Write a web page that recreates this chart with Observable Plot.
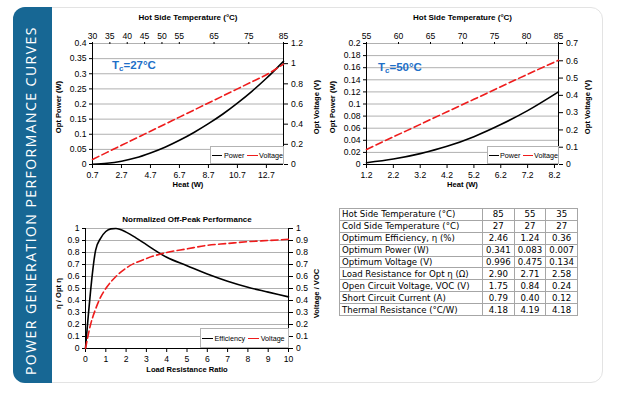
<!DOCTYPE html>
<html><head><meta charset="utf-8">
<script src="https://cdn.jsdelivr.net/npm/d3@7"></script>
<script src="https://cdn.jsdelivr.net/npm/@observablehq/plot@0.6"></script>
<style>
html,body{margin:0;padding:0;background:#fff;}
#root{position:relative;width:619px;height:395px;overflow:hidden;font-family:'Liberation Sans',Arial,sans-serif;}
.abs{position:absolute;}
#panel{left:13px;top:7px;width:590px;height:376px;border:1.5px solid #e3e3e3;border-radius:12px;box-sizing:border-box;}
#band{left:13px;top:7px;width:39px;height:376px;background:#176794;border-radius:12px 0 0 12px;}
#bandText{left:13px;top:383px;width:376px;height:39px;transform-origin:0 0;transform:rotate(-90deg);color:#fff;font-family:'Open Sans';font-size:14px;line-height:35px;padding-left:8px;box-sizing:border-box;white-space:nowrap;letter-spacing:1.45px;}
.tc{color:#1e6fc8;font-weight:bold;font-size:11.5px;white-space:nowrap;line-height:12px;}
.tc sub{font-size:8px;vertical-align:-2px;line-height:0;}
.legend{background:#fff;border:1px solid #b3b3b3;box-sizing:border-box;font-size:7.2px;display:flex;align-items:center;white-space:nowrap;padding-left:1px;color:#000;}
.sw{display:inline-block;width:11px;height:0;border-top:1.5px solid #000;margin-right:1.5px;}
.gap{display:inline-block;width:3px;}
table{border-collapse:collapse;font-family:'DejaVu Sans';font-size:8.6px;color:#000;}
td{border:1px solid #a6a6a6;padding:0 2px;height:10.9px;line-height:10px;white-space:nowrap;}
td.n{text-align:center;padding:0 1px;}
</style>
</head><body>
<div id="root">
  <div id="panel" class="abs"></div>
  <div id="band" class="abs"></div>
  <div id="bandText" class="abs">POWER GENERATION PERFORMANCE CURVES</div>
</div>
<script>
// ---------------- DATA ----------------
// Chart 1: Tc = 27°C
const c1Title = "Hot Side Temperature (°C)";
const c1Heat = [0.7, 1.7, 2.7, 3.7, 4.7, 5.7, 6.7, 7.7, 8.7, 9.7, 10.7, 11.7, 12.7, 13.88];
const c1Power = [0.001, 0.004, 0.011, 0.022, 0.038, 0.057, 0.080, 0.106, 0.135, 0.167, 0.203, 0.242, 0.285, 0.341];
const c1Volt = [0.05, 0.12, 0.19, 0.26, 0.33, 0.40, 0.47, 0.54, 0.61, 0.68, 0.75, 0.82, 0.89, 0.996];
const c1HeatTicks = [0.7, 2.7, 4.7, 6.7, 8.7, 10.7, 12.7];
const c1TempTicks = [30, 35, 40, 45, 50, 55, 65, 75, 85];
const c1PowerTicks = [0, 0.05, 0.1, 0.15, 0.2, 0.25, 0.3, 0.35, 0.4];
const c1VoltTicks = [0, 0.2, 0.4, 0.6, 0.8, 1, 1.2];

// Chart 2: Tc = 50°C
const c2Title = "Hot Side Temperature (°C)";
const c2Heat = [1.2, 2.2, 3.2, 4.2, 5.2, 6.2, 7.2, 8.35];
const c2Power = [0.003, 0.009, 0.018, 0.030, 0.046, 0.066, 0.089, 0.120];
const c2Volt = [0.087, 0.160, 0.232, 0.305, 0.377, 0.450, 0.522, 0.603];
const c2HeatTicks = [1.2, 2.2, 3.2, 4.2, 5.2, 6.2, 7.2, 8.2];
const c2TempTicks = [55, 60, 65, 70, 75, 80, 85];
const c2PowerTicks = [0, 0.02, 0.04, 0.06, 0.08, 0.1, 0.12, 0.14, 0.16, 0.18, 0.2];
const c2VoltTicks = [0, 0.1, 0.2, 0.3, 0.4, 0.5, 0.6, 0.7];

// Chart 3: Normalized off-peak performance
const c3Title = "Normalized Off-Peak Performance";
const c3RatioEff = [0, 0.5, 0.75, 1, 1.25, 1.5, 2, 2.5, 3, 4, 5, 6, 7, 8, 9, 10];
const c3Eff = [0, 0.82, 0.92, 0.975, 0.997, 1.0, 0.97, 0.92, 0.865, 0.76, 0.69, 0.62, 0.56, 0.51, 0.47, 0.43];
const c3RatioV = [0, 0.25, 0.5, 0.75, 1, 1.5, 2, 3, 4, 5, 6, 7, 8, 9, 10];
const c3Volt = [0, 0.2, 0.33, 0.43, 0.5, 0.6, 0.67, 0.75, 0.8, 0.83, 0.86, 0.875, 0.89, 0.9, 0.91];
const c3XTicks = [0, 1, 2, 3, 4, 5, 6, 7, 8, 9, 10];
const c3YTicks = [0, 0.1, 0.2, 0.3, 0.4, 0.5, 0.6, 0.7, 0.8, 0.9, 1];

// Table
const tableLabels = ["Hot Side Temperature (°C)", "Cold Side Temperature (°C)", "Optimum Efficiency, η (%)", "Optimum Power (W)", "Optimum Voltage (V)", "Load Resistance for Opt η (Ω)", "Open Circuit Voltage, VOC (V)", "Short Circuit Current (A)", "Thermal Resistance (°C/W)"];
const table85 = ["85", "27", "2.46", "0.341", "0.996", "2.90", "1.75", "0.79", "4.18"];
const table55 = ["55", "27", "1.24", "0.083", "0.475", "2.71", "0.84", "0.40", "4.19"];
const table35 = ["35", "27", "0.36", "0.007", "0.134", "2.58", "0.24", "0.12", "4.18"];

// ---------------- RENDER ----------------
const root = document.getElementById("root");
const FONT = "'Liberation Sans', Arial, sans-serif";
const svgStyle = `background:transparent;font-family:${FONT};font-size:8.6px;color:#000;overflow:visible;max-width:none;`;

function addPlot(parent, opts) {
  const el = Plot.plot({...opts, style: svgStyle});
  el.style.position = "absolute"; el.style.left = "0px"; el.style.top = "0px";
  parent.appendChild(el);
}

function makeChart(c) {
  const wrap = document.createElement("div");
  wrap.className = "abs";
  wrap.style.cssText = `left:${c.left}px;top:${c.top}px;width:${c.width}px;height:${c.height}px;`;
  root.appendChild(wrap);
  const dims = {width: c.width, height: c.height, marginLeft: c.ml, marginRight: c.mr, marginTop: c.mt, marginBottom: c.mb};
  const s1 = c.x1.map((x, i) => ({x, y: c.y1[i]}));
  const s2 = c.x2.map((x, i) => ({x, y: c.y2[i]}));
  const lbl = {fontWeight: "bold", fontSize: 7.6, textAnchor: "middle", lineAnchor: "middle", text: d => d};
  addPlot(wrap, {...dims, x: {domain: c.xDomain}, y: {domain: c.yDomain},
    marks: [
      Plot.gridY(c.yTicks, {stroke: "#b0b0b0", strokeOpacity: 1}),
      Plot.axisY(c.yTicks, {anchor: "left", tickSize: 3, tickPadding: 3, tickFormat: d => String(d), label: null}),
      Plot.axisX(c.xTicks, {anchor: "bottom", tickSize: 4, tickPadding: 3.5, tickFormat: d => String(d), label: null}),
      Plot.ruleX([c.xDomain[0], c.xDomain[1]], {stroke: "#000"}),
      Plot.ruleY([c.yDomain[0]], {stroke: "#000"}),
      Plot.line(s1, {x: "x", y: "y", stroke: "#000", strokeWidth: 1.6, curve: "monotone-x"}),
      Plot.text([c.yLabel], {...lbl, frameAnchor: "left", rotate: -90, dx: c.yLabelDx, dy: c.yLabelDy}),
      Plot.text([c.xLabel], {...lbl, frameAnchor: "bottom", dy: c.xLabelDy}),
      Plot.text([c.title], {...lbl, fontSize: 8, frameAnchor: "top", dy: c.titleDy})
    ]});
  addPlot(wrap, {...dims, x: {domain: c.xDomain, axis: null}, y: {domain: c.y2Domain},
    marks: [
      Plot.axisY(c.y2Ticks, {anchor: "right", tickSize: 4, tickPadding: 3.5, tickFormat: d => String(d), label: null}),
      Plot.line(s2, {x: "x", y: "y", stroke: "#ee1c1c", strokeWidth: 1.6, strokeDasharray: "7,3.5", curve: "monotone-x"}),
      Plot.text([c.y2Label], {...lbl, frameAnchor: "right", rotate: -90, dx: c.y2LabelDx, dy: c.yLabelDy})
    ]});
  if (c.tDomain) {
    addPlot(wrap, {...dims, x: {domain: c.tDomain},
      marks: [Plot.axisX(c.tTicks, {anchor: "top", tickSize: 2, tickPadding: 2.5, tickFormat: d => String(d), label: null})]});
  }
}

function makeLegend(left, top, width, height, names) {
  const d = document.createElement("div");
  d.className = "abs legend";
  d.style.cssText = `left:${left}px;top:${top}px;width:${width}px;height:${height}px;`;
  d.innerHTML = `<span class="sw"></span><span>${names[0]}</span><span class="gap"></span><span class="sw" style="border-top-color:#ee1c1c"></span><span>${names[1]}</span>`;
  root.appendChild(d);
}

function makeTc(left, top, value) {
  const d = document.createElement("div");
  d.className = "abs tc";
  d.style.cssText = `left:${left}px;top:${top}px;`;
  d.innerHTML = `T<sub>c</sub>=${value}°C`;
  root.appendChild(d);
}

makeChart({left: 50, top: 0, width: 290, height: 192, ml: 42, mr: 57, mt: 43, mb: 28,
  xDomain: [0.7, 13.88], yDomain: [0, 0.4], y2Domain: [0, 1.2], tDomain: [30, 85],
  xTicks: c1HeatTicks, yTicks: c1PowerTicks, y2Ticks: c1VoltTicks, tTicks: c1TempTicks,
  x1: c1Heat, y1: c1Power, x2: c1Heat, y2: c1Volt,
  title: c1Title, xLabel: "Heat (W)", yLabel: "Opt Power (W)", y2Label: "Opt Voltage (V)",
  yLabelDx: -33.5, yLabelDy: 3, y2LabelDx: 33.5, xLabelDy: 20, titleDy: -26});

makeChart({left: 325, top: 0, width: 275, height: 192, ml: 41, mr: 42, mt: 43, mb: 28,
  xDomain: [1.2, 8.35], yDomain: [0, 0.2], y2Domain: [0, 0.7], tDomain: [55, 85],
  xTicks: c2HeatTicks, yTicks: c2PowerTicks, y2Ticks: c2VoltTicks, tTicks: c2TempTicks,
  x1: c2Heat, y1: c2Power, x2: c2Heat, y2: c2Volt,
  title: c2Title, xLabel: "Heat (W)", yLabel: "Opt Power (W)", y2Label: "Opt Voltage (V)",
  yLabelDx: -34.3, yLabelDy: 3, y2LabelDx: 28.7, xLabelDy: 20, titleDy: -26});

makeChart({left: 50, top: 200, width: 290, height: 180, ml: 35, mr: 52, mt: 28, mb: 32,
  xDomain: [0, 10], yDomain: [0, 1], y2Domain: [0, 1], tDomain: null,
  xTicks: c3XTicks, yTicks: c3YTicks, y2Ticks: c3YTicks,
  x1: c3RatioEff, y1: c3Eff, x2: c3RatioV, y2: c3Volt,
  title: c3Title, xLabel: "Load Resistance Ratio", yLabel: "η / Opt η", y2Label: "Voltage / VOC",
  yLabelDx: -26.5, yLabelDy: 5, y2LabelDx: 28, xLabelDy: 21, titleDy: -9});

makeLegend(210, 146, 74, 18, ["Power", "Voltage"]);
makeLegend(487, 146, 72, 18, ["Power", "Voltage"]);
makeLegend(200, 328, 89, 20, ["Efficiency", "Voltage"]);
makeTc(112, 59, "27");
makeTc(378, 61, "50");

// table
const tbl = document.createElement("table");
tbl.className = "abs";
tbl.style.cssText = "left:339px;top:208px;width:239px;";
let html = "";
tableLabels.forEach((lab, i) => {
  html += `<tr><td style="width:138px">${lab}</td><td class="n">${table85[i]}</td><td class="n">${table55[i]}</td><td class="n">${table35[i]}</td></tr>`;
});
tbl.innerHTML = html;
root.appendChild(tbl);
</script>
</body></html>
